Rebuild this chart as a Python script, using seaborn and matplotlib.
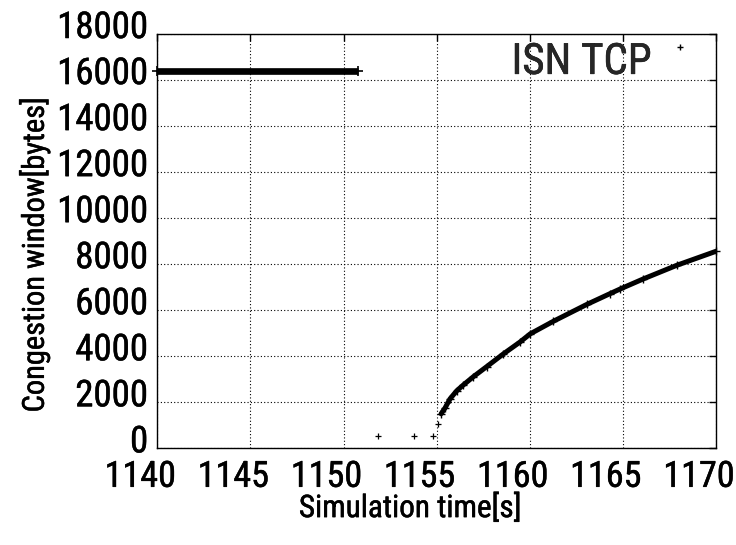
import matplotlib
matplotlib.use("Agg")
import matplotlib.pyplot as plt
import matplotlib.transforms as mtransforms
import matplotlib.patheffects as pe
from matplotlib import font_manager as fm
from matplotlib.font_manager import FontProperties
from matplotlib.textpath import TextPath
from matplotlib.lines import Line2D
import seaborn as sns

# TCP congestion window trace (bytes) against simulation time (s)
steady_time = [1140.0, 1150.8]
steady_cwnd = [16384, 16384]

restart_time = [1151.85, 1153.8, 1154.8, 1155.05]
restart_cwnd = [536, 536, 536, 1072]

growth_time = [1155.24, 1155.45, 1155.72, 1156.08, 1156.43, 1156.97, 1157.69,
               1158.58, 1159.48, 1160.02, 1161.27, 1163.06, 1164.31, 1164.85,
               1166.10, 1167.89, 1170.00]
growth_cwnd = [1500, 1750, 2150, 2500, 2750, 3110, 3550,
               4100, 4620, 4970, 5520, 6250, 6720, 6920,
               7360, 7950, 8560]

x_ticks = [1140, 1145, 1150, 1155, 1160, 1165, 1170]
y_ticks = [0, 2000, 4000, 6000, 8000, 10000, 12000, 14000, 16000, 18000]
series_label = "ISN TCP"
x_title = "Simulation time[s]"
y_title = "Congestion window[bytes]"

DPI = 100
sns.set_style("white")


# ---- pick a narrow sans face if one is installed ----
def _stretch(st):
    if isinstance(st, (int, float)):
        return st
    return {"ultra-condensed": 100, "extra-condensed": 200, "condensed": 300,
            "semi-condensed": 400, "normal": 500}.get(st, 500)


def _weight(w):
    if isinstance(w, (int, float)):
        return w
    w = str(w).lower()
    if "bold" in w or "black" in w or "heavy" in w:
        return 700
    if "light" in w or "thin" in w:
        return 300
    return 400


preferred = ["Liberation Sans Narrow", "Roboto Condensed", "Open Sans Condensed",
             "Noto Sans", "DejaVu Sans", "Open Sans", "Roboto", "Inter", "Lato"]
narrow = []
for f in fm.fontManager.ttflist:
    if "CJK" in f.name or "Mono" in f.name or "Serif" in f.name:
        continue
    if f.style != "normal" or _weight(f.weight) != 400:
        continue
    st = _stretch(f.stretch)
    if st < 500 or "Narrow" in f.name or "Condensed" in f.name:
        rank = preferred.index(f.name) if f.name in preferred else 50
        narrow.append((rank, abs(st - 300), f))
narrow.sort(key=lambda t: (t[0], t[1]))
if narrow:
    base_fp = FontProperties(fname=narrow[0][2].fname)
else:
    base_fp = FontProperties(family="Liberation Sans")
plt.rcParams["font.family"] = [base_fp.get_name(), "Liberation Sans", "DejaVu Sans"]


def ink(s, fp):
    e = TextPath((0, 0), s, size=100, prop=fp).get_extents()
    return e.width, e.height


def fitted(s, width_px, height_px, cap_ref):
    """Font size (pt) giving the requested ink width, limited by glyph height."""
    w100, _ = ink(s, base_fp)
    _, h100 = ink(cap_ref, base_fp)
    px_per_pt_w = w100 / 100 * DPI / 72
    px_per_pt_h = h100 / 100 * DPI / 72
    size = min(width_px / px_per_pt_w, height_px / px_per_pt_h)
    return size, size * px_per_pt_h


ytick_size, ytick_h = fitted("18000", 86, 28, "0")
xtick_size, xtick_h = fitted("1145", 67, 30, "0")
key_size, key_h = fitted(series_label, 135, 33, "I")
xlab_size, xlab_h = fitted(x_title, 219, 43, "I")
ylab_size, ylab_h = fitted(y_title, 311, 42, "I")

# a touch of extra stroke weight for the lettering
ink_effect = [pe.withStroke(linewidth=0.35, foreground="k")]


def fp_at(size):
    p = base_fp.copy()
    p.set_size(size)
    return p


fig = plt.figure(figsize=(7.36, 5.45), dpi=DPI)
ax_left, ax_bottom, ax_w, ax_h = 0.2137, 0.1774, 0.7591, 0.7602
ax = fig.add_axes([ax_left, ax_bottom, ax_w, ax_h])
ax_bot_px = 545 * (1 - ax_bottom)
ax_left_px = 736 * ax_left
ax_w_px = 736 * ax_w
ax_h_px = 545 * ax_h

# steady-state window: dense samples form a solid band
sns.lineplot(x=steady_time, y=steady_cwnd, ax=ax, color="k", lw=4.8,
             estimator=None, sort=False, solid_capstyle="butt")
sns.scatterplot(x=steady_time, y=steady_cwnd, ax=ax, marker="+", color="k",
                s=45, linewidth=1.2, clip_on=False)

# isolated samples after the loss
sns.scatterplot(x=restart_time, y=restart_cwnd, ax=ax, marker="+", color="k",
                s=22, linewidth=0.9)

# congestion-avoidance growth
sns.lineplot(x=growth_time, y=growth_cwnd, ax=ax, color="k", lw=3.6,
             estimator=None, sort=False)
sns.scatterplot(x=growth_time, y=growth_cwnd, ax=ax, marker="+", color="k",
                s=30, linewidth=1.0, clip_on=False)

ax.set_xlim(1140, 1170)
ax.set_ylim(0, 18000)
ax.set_xticks(x_ticks)
ax.set_yticks(y_ticks)
ax.set_xticklabels([str(v) for v in x_ticks], fontproperties=fp_at(xtick_size))
ax.set_yticklabels([str(v) for v in y_ticks], fontproperties=fp_at(ytick_size))

# x tick digits centred ~24 px below the frame, y tick text ends ~9 px left of it
xpad_px = 23.7 - xtick_h / 2
ax.tick_params(axis="both", direction="in", length=5, width=1, colors="k",
               top=True, right=True)
ax.tick_params(axis="x", pad=xpad_px * 72 / DPI)
ax.tick_params(axis="y", pad=6.5)

ax.grid(True, linestyle=(0, (1, 2)), linewidth=0.8, color="k")
for sp in ax.spines.values():
    sp.set_color("k")
    sp.set_linewidth(1.0)

shift_x = mtransforms.ScaledTranslation(-0.17, 0, fig.dpi_scale_trans)
for tick in ax.xaxis.get_major_ticks():
    tick.label1.set_transform(tick.label1.get_transform() + shift_x)
    tick.label1.set_path_effects(ink_effect)
shift_y = mtransforms.ScaledTranslation(0, 0.10, fig.dpi_scale_trans)
for tick in ax.yaxis.get_major_ticks():
    tick.label1.set_transform(tick.label1.get_transform() + shift_y)
    tick.label1.set_path_effects(ink_effect)

# axis titles, placed by the centre of their capitals
ax.set_xlabel(x_title, fontproperties=fp_at(xlab_size), color="k", va="baseline",
              path_effects=ink_effect)
xlab_base_px = 506 + xlab_h / 2
ax.xaxis.set_label_coords((410 - ax_left_px) / ax_w_px,
                          (ax_bot_px - xlab_base_px) / ax_h_px)
ax.set_ylabel(y_title, fontproperties=fp_at(ylab_size), color="k", va="baseline",
              path_effects=ink_effect)
ylab_base_px = 33 + ylab_h / 2
ax.yaxis.set_label_coords((ylab_base_px - ax_left_px) / ax_w_px,
                          (ax_bot_px - 255) / ax_h_px)

key_handle = Line2D([], [], ls="none", marker="+", color="k",
                    markersize=5, markeredgewidth=1)
leg = ax.legend([key_handle], [series_label], loc="upper right",
                bbox_to_anchor=(0.967, 0.981), frameon=False, markerfirst=False,
                prop=fp_at(key_size), handlelength=0.8, handletextpad=0.27,
                borderpad=0, borderaxespad=0)
for t in leg.get_texts():
    t.set_path_effects(ink_effect)
# key sample sits level with the top of the caption
raise_key = mtransforms.ScaledTranslation(0, 0.12, fig.dpi_scale_trans)
for h in leg.legend_handles:
    h.set_transform(h.get_transform() + raise_key)

fig.savefig("out.png", dpi=DPI)
